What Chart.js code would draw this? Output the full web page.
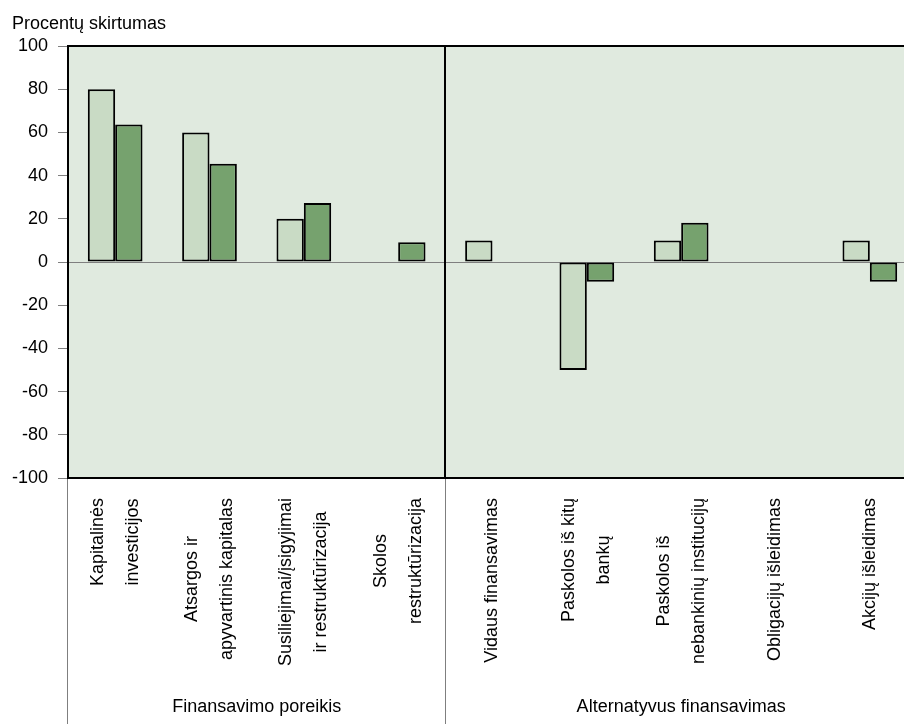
<!DOCTYPE html>
<html lang="lt">
<head>
<meta charset="utf-8">
<title>Procentų skirtumas</title>
<script src="https://cdn.jsdelivr.net/npm/chart.js@4/dist/chart.umd.min.js"></script>
<style>
  html, body { margin: 0; padding: 0; background: #ffffff; overflow: hidden; }
  #wrap { width: 924px; height: 724px; }
</style>
</head>
<body>
<div id="wrap"><canvas id="c" width="924" height="724"></canvas></div>
<script>
// Category labels (line breaks as shown under the axis)
const categoryLines = [
  ['Kapitalinės', 'investicijos'],
  ['Atsargos ir', 'apyvartinis kapitalas'],
  ['Susiliejimai/įsigyjimai', 'ir restruktūrizacija'],
  ['Skolos', 'restruktūrizacija'],
  ['Vidaus finansavimas'],
  ['Paskolos iš kitų', 'bankų'],
  ['Paskolos iš', 'nebankinių institucijų'],
  ['Obligacijų išleidimas'],
  ['Akcijų išleidimas']
];
const categories = categoryLines.map(l => l.join(' '));

// Two series of percentage differences
const seriesLight = [80, 60, 20, null, 10, -50, 10, null, 10];
const seriesDark = [63.6, 45.5, 27.3, 9.1, null, -9.1, 18.2, null, -9.1];

// Category groups below the labels
const groupLabels = ['Finansavimo poreikis', 'Alternatyvus finansavimas'];
const groupStart = [0, 4];
const groupEnd = [3, 8];

// Value axis
const yTitle = 'Procentų skirtumas';
const yMin = -100, yMax = 100, yStep = 20;

const FONT = '"Liberation Sans", Arial, sans-serif';
const PLOT_BG = '#e0eadf';
const LIGHT = '#c9dbc5';
const DARK = '#76a26e';

const framePlugin = {
  id: 'frame',
  beforeDraw(chart) {
    const { ctx, chartArea: a } = chart;
    ctx.save();
    ctx.fillStyle = PLOT_BG;
    ctx.fillRect(a.left, a.top, a.right - a.left, a.bottom - a.top);
    ctx.restore();
  },
  afterDatasetsDraw(chart) {
    const { ctx, chartArea: a, scales } = chart;
    const x = scales.x;
    const H = chart.height;
    ctx.save();
    // group separators below the plot
    ctx.strokeStyle = '#7f7f7f';
    ctx.lineWidth = 1;
    ctx.beginPath();
    ctx.moveTo(Math.round(a.left) - 0.5, a.bottom);
    ctx.lineTo(Math.round(a.left) - 0.5, H);
    for (let g = 1; g < groupStart.length; g++) {
      const d = Math.round(x.getPixelForValue(groupStart[g] - 0.5));
      ctx.moveTo(d + 0.5, a.bottom);
      ctx.lineTo(d + 0.5, H);
    }
    ctx.stroke();
    // divider inside the plot and top/bottom frame
    ctx.strokeStyle = '#000000';
    ctx.lineWidth = 2;
    ctx.beginPath();
    for (let g = 1; g < groupStart.length; g++) {
      const d = Math.round(x.getPixelForValue(groupStart[g] - 0.5));
      ctx.moveTo(d, a.top);
      ctx.lineTo(d, a.bottom);
    }
    ctx.moveTo(a.left - 1, a.top);
    ctx.lineTo(a.right, a.top);
    ctx.moveTo(a.left - 1, a.bottom);
    ctx.lineTo(a.right, a.bottom);
    ctx.stroke();
    ctx.restore();
  },
  afterDraw(chart) {
    const { ctx, chartArea: a, scales } = chart;
    const x = scales.x;
    ctx.save();
    ctx.fillStyle = '#000000';
    ctx.font = '18px ' + FONT;
    // value axis title
    ctx.textAlign = 'left';
    ctx.textBaseline = 'alphabetic';
    ctx.fillText(yTitle, 12, 29);
    // rotated category labels
    const labelTop = 498;
    const lineGap = 35;
    categoryLines.forEach((lines, i) => {
      const cx = x.getPixelForValue(i);
      const longest = Math.max(...lines.map(t => ctx.measureText(t).width));
      ctx.save();
      ctx.translate(cx, labelTop);
      ctx.rotate(-Math.PI / 2);
      ctx.textAlign = 'center';
      ctx.textBaseline = 'middle';
      lines.forEach((t, k) => {
        const v = (k - (lines.length - 1) / 2) * lineGap;
        ctx.fillText(t, -longest / 2, v);
      });
      ctx.restore();
    });
    // group labels
    ctx.textAlign = 'center';
    ctx.textBaseline = 'alphabetic';
    groupLabels.forEach((t, g) => {
      const l = x.getPixelForValue(groupStart[g] - 0.5);
      const r = x.getPixelForValue(groupEnd[g] + 0.5);
      ctx.fillText(t, (l + r) / 2, 712);
    });
    ctx.restore();
  }
};

new Chart(document.getElementById('c'), {
  type: 'bar',
  data: {
    labels: categories,
    datasets: [
      {
        data: seriesLight,
        backgroundColor: LIGHT,
        borderColor: '#000000',
        borderWidth: 2,
        borderSkipped: false
      },
      {
        data: seriesDark,
        backgroundColor: DARK,
        borderColor: '#000000',
        borderWidth: 2,
        borderSkipped: false
      }
    ]
  },
  options: {
    responsive: false,
    animation: false,
    devicePixelRatio: 1,
    layout: { padding: { top: 46, left: 0, right: 7, bottom: 0 } },
    datasets: { bar: { categoryPercentage: 0.58, barPercentage: 1.0 } },
    plugins: {
      legend: { display: false },
      title: { display: false },
      tooltip: { enabled: false }
    },
    scales: {
      x: {
        offset: true,
        grid: { display: false, drawTicks: false },
        border: { display: false },
        ticks: { display: false },
        afterFit(s) { s.height = 246; }
      },
      y: {
        min: yMin,
        max: yMax,
        ticks: {
          stepSize: yStep,
          color: '#000000',
          padding: 10,
          font: { family: FONT, size: 18 }
        },
        grid: {
          drawOnChartArea: true,
          drawTicks: true,
          tickLength: 10,
          tickColor: '#7f7f7f',
          lineWidth: 1,
          color: c => (c.tick && c.tick.value === 0) ? '#7f7f7f' : 'rgba(0,0,0,0)'
        },
        border: { display: true, color: '#000000', width: 2 },
        afterFit(s) { s.width = 68; }
      }
    }
  },
  plugins: [framePlugin]
});
</script>
</body>
</html>
